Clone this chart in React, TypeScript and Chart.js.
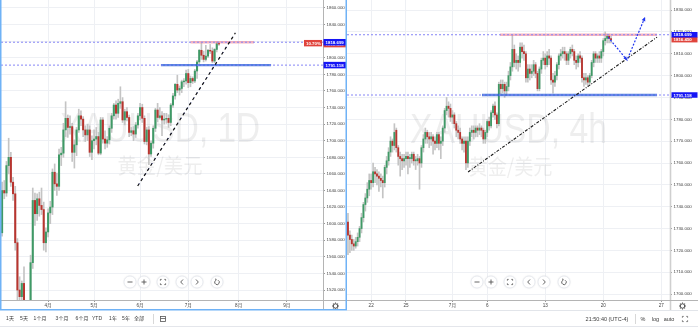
import { useEffect, useRef } from 'react';
import { Chart, registerables } from 'chart.js';

Chart.register(...registerables);

const FONT = '"Liberation Sans", "Noto Sans CJK SC", sans-serif';
const CJK = '"Noto Sans CJK SC", sans-serif';
const UP = '#3f9a66';
const DOWN = '#b8352f';
const WICK = '#c4c4c4';

// ---------------- Left panel: XAUUSD, 1D (daily candles) ----------------
const dayOpen = [1589,1640,1637,1670,1680,1650,1636,1577,1520,1512, 1528,1477,1472,1498,1553,1628,1612,1630,1622,1617, 1577,1590,1613,1620,1662,1648,1645,1683,1685,1713, 1727,1716,1717,1686,1695,1713,1730,1726,1713,1707, 1713,1686,1700,1702,1705,1685,1725,1702,1697,1701, 1715,1730,1743,1733,1745,1747,1725,1735,1728,1710, 1712,1708,1719,1730,1740,1727,1699,1713,1684,1697, 1715,1737,1728,1730,1725,1726,1727,1722,1743,1754, 1768,1761,1763,1771,1772,1781,1770,1775,1772,1784, 1795,1809,1803,1798,1802,1809,1808,1796,1810,1817];
const dayHigh = [1650,1652,1675,1703,1686,1656,1645,1582,1536,1531, 1548,1505,1506,1562,1643,1637,1636,1638,1643,1626, 1595,1618,1627,1666,1672,1661,1690,1692,1721,1747, 1731,1730,1721,1701,1716,1738,1736,1729,1718,1720, 1718,1706,1713,1716,1710,1728,1728,1712,1705,1718, 1733,1745,1748,1750,1765,1752,1738,1740,1731,1716, 1717,1722,1733,1745,1744,1730,1716,1717,1700,1718, 1739,1745,1740,1735,1733,1733,1731,1745,1757,1769, 1779,1766,1773,1775,1785,1786,1778,1777,1786,1797, 1810,1818,1808,1815,1810,1816,1812,1811,1819,1818.5];
const dayLow = [1585,1630,1633,1660,1645,1628,1568,1504,1450,1478, 1465,1451,1455,1482,1546,1598,1604,1609,1611,1568, 1566,1584,1600,1611,1640,1634,1640,1670,1680,1705, 1704,1708,1675,1667,1682,1710,1718,1705,1699,1700, 1681,1677,1690,1695,1683,1683,1697,1690,1692,1696, 1710,1726,1726,1728,1739,1722,1719,1724,1705,1706, 1700,1704,1715,1725,1722,1696,1695,1671,1681,1691, 1711,1723,1726,1706,1720,1721,1716,1718,1740,1750, 1758,1755,1758,1765,1768,1764,1765,1769,1770,1775, 1793,1798,1795,1796,1800,1805,1794,1794,1807,1815];
const dayClose = [1640,1637,1670,1680,1650,1636,1577,1520,1512,1528, 1477,1472,1498,1553,1628,1612,1630,1622,1617,1577, 1590,1613,1620,1662,1648,1645,1683,1685,1713,1727, 1716,1717,1686,1695,1713,1730,1726,1713,1707,1713, 1686,1700,1702,1705,1685,1725,1702,1697,1701,1715, 1730,1743,1733,1745,1747,1725,1735,1728,1710,1712, 1708,1719,1730,1740,1727,1699,1713,1684,1697,1715, 1737,1728,1730,1725,1726,1727,1722,1743,1754,1768, 1761,1763,1771,1772,1781,1770,1775,1772,1784,1795, 1809,1803,1798,1802,1809,1808,1796,1810,1817,1816.45];
const daySlots = 147;
const dayTickIndex = [21, 42, 63, 85, 108, 130];
const dayTickLabels = ['4月', '5月', '6月', '7月', '8月', '9月'];
const dayPriceTicks = [1520,1540,1560,1580,1600,1620,1640,1660,1680,1700,1720,1740,1760,1780,1800,1820,1840,1860];
const dayPriceRange = [1508, 1869.6];
const dayTrend = [{ x: 61.9, y: 1645.4 }, { x: 106.5, y: 1829.9 }];
const dayResistSpan = [86, 115];
const daySupportSpan = [72.5, 122.8];

// ---------------- Right panel: XAUUSD, 4h ----------------
const h4Open = [1733,1727,1725,1723,1722,1724,1726,1730,1735,1741, 1744,1748,1752,1751,1756,1755,1754,1753,1752,1751, 1758,1761,1765,1770,1768,1775,1767,1763,1762,1761, 1762,1763,1762,1762,1764,1761,1761,1762,1760,1767, 1771,1774,1772,1771,1772,1770,1769,1773,1769,1770, 1776,1784,1786,1785,1781,1782,1778,1775,1774,1771, 1769,1770,1760,1770,1774,1775,1774,1776,1775,1776, 1775,1771,1774,1779,1777,1783,1786,1782,1778,1796, 1794,1796,1793,1795,1800,1804,1812,1806,1807,1806, 1813,1811,1810,1799,1803,1801,1802,1805,1801,1794, 1803,1807,1808,1805,1809,1808,1798,1797,1800,1805, 1809,1810,1811,1810,1807,1810,1812,1811,1807,1806, 1809,1808,1799,1798,1799,1797,1800,1806,1810,1808, 1809,1808,1811,1816,1817,1818,1817];
const h4High = [1737,1729,1727,1725,1726,1728,1731,1737,1742,1746, 1751,1755,1755,1760,1758,1757,1756,1755,1754,1759, 1763,1767,1772,1771,1778,1776,1768,1765,1764,1764, 1765,1765,1764,1765,1765,1763,1764,1763,1768,1773, 1776,1775,1774,1774,1773,1772,1774,1774,1772,1777, 1785,1790,1788,1787,1784,1783,1779,1777,1776,1772, 1772,1772,1772,1776,1777,1777,1777,1777,1778,1777, 1776,1775,1780,1781,1784,1787,1788,1783,1797,1798, 1798,1797,1797,1802,1806,1818.5,1814,1810,1809,1815, 1815,1814,1811,1805,1805,1805,1807,1806,1802,1804, 1808,1811,1810,1811,1812,1809,1801,1802,1806,1810, 1812,1813,1813,1811,1811,1813,1814,1812,1809,1810, 1811,1809,1801,1801,1800,1801,1807,1811,1811,1810, 1811,1812,1817,1820,1819,1819,1818];
const h4Low = [1718,1719,1720,1720,1721,1722,1724,1728,1733,1738, 1742,1745,1748,1749,1751,1750,1747,1749,1744,1749, 1755,1759,1763,1765,1766,1765,1759,1754,1757,1758, 1759,1755,1758,1760,1759,1757,1759,1748,1758,1765, 1769,1769,1767,1768,1764,1766,1767,1766,1762,1768, 1774,1782,1781,1779,1778,1776,1772,1771,1769,1766, 1765,1757,1758,1768,1772,1771,1772,1772,1773,1772, 1769,1769,1772,1775,1776,1781,1780,1776,1777,1791, 1792,1790,1791,1793,1798,1802,1804,1803,1802,1804, 1808,1807,1797,1797,1798,1799,1800,1799,1793,1793, 1801,1805,1803,1804,1805,1796,1792,1795,1798,1803, 1807,1808,1807,1805,1805,1808,1809,1805,1803,1804, 1806,1797,1795,1796,1795,1796,1799,1804,1806,1806, 1806,1806,1809,1814,1815,1815,1815];
const h4Close = [1727,1725,1723,1722,1724,1726,1730,1735,1741,1744, 1748,1752,1751,1756,1755,1754,1753,1752,1751,1758, 1761,1765,1770,1768,1774,1767,1763,1762,1761,1762, 1763,1762,1762.5,1764,1761,1761.5,1762,1760,1767,1771, 1774,1772,1771,1772,1770,1769,1773,1769,1770,1776, 1784,1786,1785,1781,1782,1778,1775,1774,1771,1769, 1770,1760,1770,1774,1775,1774,1776,1775,1776,1775, 1771,1774,1779,1777,1783,1786,1782,1778,1796,1794, 1796,1793,1795,1800,1804,1812,1806,1807,1806,1813, 1811,1810,1799,1803,1801,1802,1805,1801,1794,1803, 1807,1808,1805,1809,1808,1798,1797,1800,1805,1809, 1810,1811,1810,1807,1810,1812,1811,1807,1806,1809, 1808,1799,1798,1799,1797,1800,1806,1810,1808,1809, 1808,1811,1816,1817,1818,1817,1816.45];
const h4Slots = 167;
const h4TickIndex = [12, 30, 54, 72, 102, 132, 162];
const h4TickLabels = ['22', '25', '7月', '6', '13', '20', '27'];
const h4PriceTicks = [1700,1710,1720,1730,1740,1750,1760,1770,1780,1790,1800,1810,1820,1830];
const h4PriceRange = [1697.3, 1834.6];
const h4Trend = [{ x: 62.1, y: 1755.9 }, { x: 159.8, y: 1817.6 }];
const h4ResistSpan = [78.6, 159.8];
const h4SupportSpan = [69.3, 159.8];
const h4Projection = [{ x: 134.5, y: 1817.6 }, { x: 144.3, y: 1807.1 }, { x: 153.6, y: 1826.8 }];

// ---------------- Shared levels and texts ----------------
const resistanceLevel = 1818.699;
const supportLevel = 1791.118;
const lastPrice = 1816.45;
const rangePercent = '10.70%';
const rangeButtons = ['1天', '5天', '1个月', '3个月', '6个月', 'YTD', '1年', '5年', '全部'];
const clockText = '21:50:40 (UTC-4)';
const scaleButtons = ['%', 'log', 'auto'];

type Pt = { x: number; y: number };
interface PanelDef {
  key: string;
  open: number[]; high: number[]; low: number[]; close: number[];
  slots: number; range: number[];
  xTicks: number[]; xLabels: string[]; yTicks: number[];
  trend: Pt[]; resistSpan: number[]; supportSpan: number[]; projection: Pt[] | null;
  title: string; subtitle: string;
  bodyW: number; wickW: number; axisW: number; padLeft: number;
  wm: { cx: number; base: number; w: number; subCx: number; subMid: number; subW: number };
  tagX: number; tagW: number; tagH: number;
  side: 'left' | 'right';
}

function arrowHead(ctx: CanvasRenderingContext2D, a: Pt, b: Pt, size: number, color: string) {
  const ang = Math.atan2(b.y - a.y, b.x - a.x);
  ctx.beginPath();
  ctx.moveTo(b.x, b.y);
  ctx.lineTo(b.x - size * Math.cos(ang - 0.45), b.y - size * Math.sin(ang - 0.45));
  ctx.lineTo(b.x - size * Math.cos(ang + 0.45), b.y - size * Math.sin(ang + 0.45));
  ctx.closePath();
  ctx.fillStyle = color;
  ctx.fill();
}

function drawNav(ctx: CanvasRenderingContext2D, y: number) {
  const xs = [130, 144, 163, 182, 197, 217];
  ctx.save();
  xs.forEach((x, k) => {
    ctx.beginPath();
    ctx.arc(x, y, 6, 0, Math.PI * 2);
    ctx.fillStyle = '#ffffff';
    ctx.shadowColor = 'rgba(0,0,0,0.15)';
    ctx.shadowBlur = 2;
    ctx.fill();
    ctx.shadowBlur = 0;
    ctx.strokeStyle = '#e4e7ed';
    ctx.lineWidth = 0.8;
    ctx.stroke();
    ctx.strokeStyle = '#555';
    ctx.lineWidth = 0.9;
    ctx.beginPath();
    if (k === 0) {
      ctx.moveTo(x - 2.5, y); ctx.lineTo(x + 2.5, y);
    } else if (k === 1) {
      ctx.moveTo(x - 2.5, y); ctx.lineTo(x + 2.5, y);
      ctx.moveTo(x, y - 2.5); ctx.lineTo(x, y + 2.5);
    } else if (k === 2) {
      const s = 2.6, l = 1.2;
      ctx.moveTo(x - s, y - s + l); ctx.lineTo(x - s, y - s); ctx.lineTo(x - s + l, y - s);
      ctx.moveTo(x + s - l, y - s); ctx.lineTo(x + s, y - s); ctx.lineTo(x + s, y - s + l);
      ctx.moveTo(x + s, y + s - l); ctx.lineTo(x + s, y + s); ctx.lineTo(x + s - l, y + s);
      ctx.moveTo(x - s + l, y + s); ctx.lineTo(x - s, y + s); ctx.lineTo(x - s, y + s - l);
    } else if (k === 3) {
      ctx.moveTo(x + 1, y - 2.5); ctx.lineTo(x - 1.3, y); ctx.lineTo(x + 1, y + 2.5);
    } else if (k === 4) {
      ctx.moveTo(x - 1, y - 2.5); ctx.lineTo(x + 1.3, y); ctx.lineTo(x - 1, y + 2.5);
    } else {
      ctx.arc(x, y + 0.3, 2.3, -Math.PI * 0.35, Math.PI * 1.4);
    }
    ctx.stroke();
    if (k === 5) arrowHead(ctx, { x: x - 2.5, y: y - 3.5 }, { x: x - 0.2, y: y - 2.3 }, 1.8, '#555');
  });
  ctx.restore();
}

function drawGear(ctx: CanvasRenderingContext2D, x: number, y: number) {
  ctx.save();
  ctx.strokeStyle = '#555';
  ctx.lineWidth = 1;
  ctx.beginPath();
  ctx.arc(x, y, 2.2, 0, Math.PI * 2);
  ctx.stroke();
  ctx.lineWidth = 1.1;
  for (let k = 0; k < 8; k++) {
    const a = (k * Math.PI) / 4;
    ctx.beginPath();
    ctx.moveTo(x + 2.4 * Math.cos(a), y + 2.4 * Math.sin(a));
    ctx.lineTo(x + 3.5 * Math.cos(a), y + 3.5 * Math.sin(a));
    ctx.stroke();
  }
  ctx.restore();
}

function priceTag(ctx: CanvasRenderingContext2D, x: number, w: number, yc: number, h: number, bg: string, text: string) {
  ctx.fillStyle = bg;
  ctx.fillRect(x, yc - h / 2, w, h);
  ctx.fillStyle = '#ffffff';
  ctx.font = `bold 4.4px ${FONT}`;
  ctx.textAlign = 'left';
  ctx.textBaseline = 'middle';
  ctx.fillText(text, x + 2, yc + 0.3);
}

function makePlugin(p: PanelDef) {
  return {
    id: 'decor' + p.key,
    beforeDatasetsDraw(chart: any) {
      const ctx: CanvasRenderingContext2D = chart.ctx;
      ctx.save();
      ctx.fillStyle = 'rgba(60,60,60,0.085)';
      ctx.font = `42px ${FONT}`;
      ctx.textAlign = 'center';
      ctx.textBaseline = 'alphabetic';
      const w = ctx.measureText(p.title).width;
      ctx.translate(p.wm.cx, p.wm.base);
      ctx.scale(p.wm.w / w, 1);
      ctx.fillText(p.title, 0, 0);
      ctx.restore();
      ctx.save();
      ctx.fillStyle = 'rgba(60,60,60,0.085)';
      ctx.font = `21px ${CJK}`;
      ctx.textAlign = 'center';
      ctx.textBaseline = 'middle';
      const w2 = ctx.measureText(p.subtitle).width;
      ctx.translate(p.wm.subCx, p.wm.subMid);
      ctx.scale(p.wm.subW / w2, 1);
      ctx.fillText(p.subtitle, 0, 0);
      ctx.restore();
    },
    afterDatasetsDraw(chart: any) {
      if (!p.projection) return;
      const ctx: CanvasRenderingContext2D = chart.ctx;
      const xs = chart.scales.x, ys = chart.scales.y;
      const pts = p.projection.map((q) => ({ x: xs.getPixelForValue(q.x), y: ys.getPixelForValue(q.y) }));
      ctx.save();
      arrowHead(ctx, pts[0], pts[1], 4, '#2136f0');
      arrowHead(ctx, pts[1], pts[2], 4.5, '#2136f0');
      ctx.restore();
    },
    afterDraw(chart: any) {
      const ctx: CanvasRenderingContext2D = chart.ctx;
      const ca = chart.chartArea;
      const ys = chart.scales.y;
      const W = chart.width;
      ctx.save();
      ctx.strokeStyle = p.side === 'left' ? '#b4b4b4' : '#cfcfcf';
      ctx.lineWidth = p.side === 'left' ? 1 : 1.6;
      ctx.beginPath();
      ctx.moveTo(ca.right + 0.5, 0);
      ctx.lineTo(ca.right + 0.5, 310);
      ctx.stroke();
      ctx.strokeStyle = '#b4b4b4';
      ctx.lineWidth = 1;
      ctx.beginPath();
      ctx.moveTo(0, 300.5);
      ctx.lineTo(W, 300.5);
      ctx.stroke();
      const yR = ys.getPixelForValue(resistanceLevel);
      const yL = ys.getPixelForValue(lastPrice);
      const yS = ys.getPixelForValue(supportLevel);
      priceTag(ctx, p.tagX, p.tagW, yL, p.tagH, '#e0443c', lastPrice.toFixed(3));
      priceTag(ctx, p.tagX, p.tagW, yR, p.tagH, '#1515f5', resistanceLevel.toFixed(3));
      priceTag(ctx, p.tagX, p.tagW, yS, p.tagH, '#1515f5', supportLevel.toFixed(3));
      if (p.side === 'left') {
        priceTag(ctx, ca.right - 19, 18, (yR + yL) / 2, 6.4, '#e0443c', rangePercent);
      }
      drawNav(ctx, 282);
      drawGear(ctx, ca.right + 12.5, 306);
      ctx.fillStyle = '#3a3a3a';
      ctx.textBaseline = 'middle';
      ctx.textAlign = 'center';
      if (p.side === 'left') {
        ctx.font = `5px ${FONT}`;
        const xs = [10, 24, 40, 62, 82, 97, 113, 126, 139];
        rangeButtons.forEach((t, i) => ctx.fillText(t, xs[i], 319));
        ctx.strokeStyle = '#d8d8d8';
        ctx.beginPath(); ctx.moveTo(153.5, 314); ctx.lineTo(153.5, 324); ctx.stroke();
        ctx.strokeStyle = '#555'; ctx.lineWidth = 0.8;
        ctx.strokeRect(160.5, 316.5, 5, 5);
        ctx.beginPath(); ctx.moveTo(160.5, 318.5); ctx.lineTo(165.5, 318.5); ctx.stroke();
        ctx.strokeStyle = '#6fb2f6';
        ctx.lineWidth = 1.5;
        ctx.beginPath();
        ctx.moveTo(0.75, 0); ctx.lineTo(0.75, 309.75); ctx.lineTo(346.25, 309.75); ctx.lineTo(346.25, 0);
        ctx.stroke();
      } else {
        ctx.font = `5.5px ${FONT}`;
        ctx.fillText(clockText, 260, 319);
        const xs = [296, 308.5, 322];
        scaleButtons.forEach((t, i) => ctx.fillText(t, xs[i], 319));
        ctx.strokeStyle = '#d8d8d8';
        ctx.lineWidth = 1;
        ctx.beginPath(); ctx.moveTo(288.5, 314); ctx.lineTo(288.5, 324); ctx.stroke();
        ctx.strokeStyle = '#555'; ctx.lineWidth = 0.8;
        const x = 338, y = 319, s = 2.6, l = 1.3;
        ctx.beginPath();
        ctx.moveTo(x - s, y - s + l); ctx.lineTo(x - s, y - s); ctx.lineTo(x - s + l, y - s);
        ctx.moveTo(x + s - l, y - s); ctx.lineTo(x + s, y - s); ctx.lineTo(x + s, y - s + l);
        ctx.moveTo(x + s, y + s - l); ctx.lineTo(x + s, y + s); ctx.lineTo(x + s - l, y + s);
        ctx.moveTo(x - s + l, y + s); ctx.lineTo(x - s, y + s); ctx.lineTo(x - s, y + s - l);
        ctx.stroke();
        ctx.strokeStyle = '#e2e5ea';
        ctx.lineWidth = 1;
        ctx.beginPath(); ctx.moveTo(0, 310.5); ctx.lineTo(W, 310.5); ctx.stroke();
      }
      ctx.strokeStyle = '#e4e6eb';
      ctx.lineWidth = 1;
      ctx.beginPath(); ctx.moveTo(0, 326.5); ctx.lineTo(W, 326.5); ctx.stroke();
      ctx.restore();
    },
  };
}

function line(data: Pt[], color: string, width: number, dash: number[], order: number, offset = 0) {
  return {
    type: 'line', data, borderColor: color, borderWidth: width, borderDash: dash, borderDashOffset: offset,
    pointRadius: 0, pointHoverRadius: 0, fill: false, tension: 0, order, borderCapStyle: 'butt',
  };
}

function buildConfig(p: PanelDef): any {
  const bodies = p.open.map((o, i) => ({ x: i, y: [o, p.close[i]] }));
  const wicks = p.open.map((_, i) => ({ x: i, y: [p.low[i], p.high[i]] }));
  const colors = p.open.map((o, i) => (p.close[i] >= o ? UP : DOWN));
  const edge = [-0.5, p.slots - 0.5];
  const level = (xs: number[], y: number) => xs.map((x) => ({ x, y }));
  const datasets: any[] = [
    { type: 'bar', data: bodies, backgroundColor: colors, barThickness: p.bodyW, grouped: false, minBarLength: 0.8, order: 6 },
    { type: 'bar', data: wicks, backgroundColor: WICK, barThickness: p.wickW, grouped: false, order: 7 },
    line(level(p.resistSpan, resistanceLevel), 'rgba(240,120,140,0.55)', 2.4, [], 5),
    line(level(p.supportSpan, supportLevel), 'rgba(40,95,215,0.8)', 2.4, [], 5),
    line(level(edge, resistanceLevel), '#8585f6', 1, [2, 2], 4),
    line(level(edge, supportLevel), '#8585f6', 1, [2, 2], 4),
  ];
  if (p.side === 'left') {
    datasets.push(line(p.trend, '#4a5ad8', 1, [1.5, 4.5], 2, 4.5));
    datasets.push(line(p.trend, '#121212', 1.2, [3, 3], 1));
  } else {
    datasets.push(line(p.trend, '#1a1a1a', 1.1, [3, 1.5, 1, 1.5], 1));
  }
  if (p.projection) datasets.push(line(p.projection, '#2136f0', 1.2, [2, 1.5], 0));

  return {
    type: 'bar',
    data: { datasets },
    options: {
      responsive: false,
      animation: false,
      devicePixelRatio: 1,
      events: [],
      layout: { padding: { left: p.padLeft, right: 0, top: 0, bottom: 18 } },
      plugins: { legend: { display: false }, tooltip: { enabled: false } },
      scales: {
        x: {
          type: 'linear', min: -0.5, max: p.slots - 0.5, offset: false,
          afterBuildTicks: (s: any) => { s.ticks = p.xTicks.map((v) => ({ value: v })); },
          afterFit: (s: any) => { s.height = 10; s.paddingLeft = 0; s.paddingRight = 0; },
          ticks: {
            autoSkip: false, maxRotation: 0, minRotation: 0, padding: 1, color: '#444',
            font: { family: FONT, size: 4.6 },
            callback: (_v: any, i: number) => p.xLabels[i] ?? '',
          },
          grid: { color: '#eef0f4', lineWidth: 1, tickLength: 2, tickColor: '#999', offset: false },
          border: { display: false },
        },
        y: {
          type: 'linear', position: 'right', min: p.range[0], max: p.range[1],
          afterBuildTicks: (s: any) => { s.ticks = p.yTicks.map((v) => ({ value: v })); },
          afterFit: (s: any) => { s.width = p.axisW; s.paddingTop = 0; s.paddingBottom = 0; },
          ticks: {
            autoSkip: false, padding: 1.5, color: '#444',
            font: { family: FONT, size: 4.4 },
            callback: (v: any) => Number(v).toFixed(3),
          },
          grid: { color: '#eef0f4', lineWidth: 1, tickLength: 2, tickColor: '#999' },
          border: { display: false },
        },
      },
    },
    plugins: [makePlugin(p)],
  };
}

const leftPanel: PanelDef = {
  key: 'L', open: dayOpen, high: dayHigh, low: dayLow, close: dayClose,
  slots: daySlots, range: dayPriceRange, xTicks: dayTickIndex, xLabels: dayTickLabels, yTicks: dayPriceTicks,
  trend: dayTrend, resistSpan: dayResistSpan, supportSpan: daySupportSpan, projection: null,
  title: 'XAUUSD, 1D', subtitle: '黄金/美元',
  bodyW: 1.4, wickW: 1, axisW: 24, padLeft: 1,
  wm: { cx: 160, base: 142, w: 200, subCx: 160, subMid: 165, subW: 85 },
  tagX: 323.5, tagW: 22.5, tagH: 6.5, side: 'left',
};

const rightPanel: PanelDef = {
  key: 'R', open: h4Open, high: h4High, low: h4Low, close: h4Close,
  slots: h4Slots, range: h4PriceRange, xTicks: h4TickIndex, xLabels: h4TickLabels, yTicks: h4PriceTicks,
  trend: h4Trend, resistSpan: h4ResistSpan, supportSpan: h4SupportSpan, projection: h4Projection,
  title: 'XAUUSD, 4h', subtitle: '黄金/美元',
  bodyW: 1.2, wickW: 1, axisW: 28, padLeft: 0,
  wm: { cx: 161.5, base: 143, w: 197, subCx: 163.5, subMid: 166, subW: 84 },
  tagX: 324.5, tagW: 26, tagH: 5.5, side: 'right',
};

export default function App() {
  const leftRef = useRef<HTMLCanvasElement | null>(null);
  const rightRef = useRef<HTMLCanvasElement | null>(null);

  useEffect(() => {
    document.body.style.margin = '0';
    const charts: Chart[] = [];
    if (leftRef.current) charts.push(new Chart(leftRef.current, buildConfig(leftPanel)));
    if (rightRef.current) charts.push(new Chart(rightRef.current, buildConfig(rightPanel)));
    return () => charts.forEach((c) => c.destroy());
  }, []);

  return (
    <div style={{ position: 'fixed', left: 0, top: 0, width: 698, height: 328, background: '#ffffff', overflow: 'hidden' }}>
      <canvas ref={leftRef} width={347} height={328} style={{ position: 'absolute', left: 0, top: 0 }} />
      <canvas ref={rightRef} width={351} height={328} style={{ position: 'absolute', left: 347, top: 0 }} />
    </div>
  );
}
